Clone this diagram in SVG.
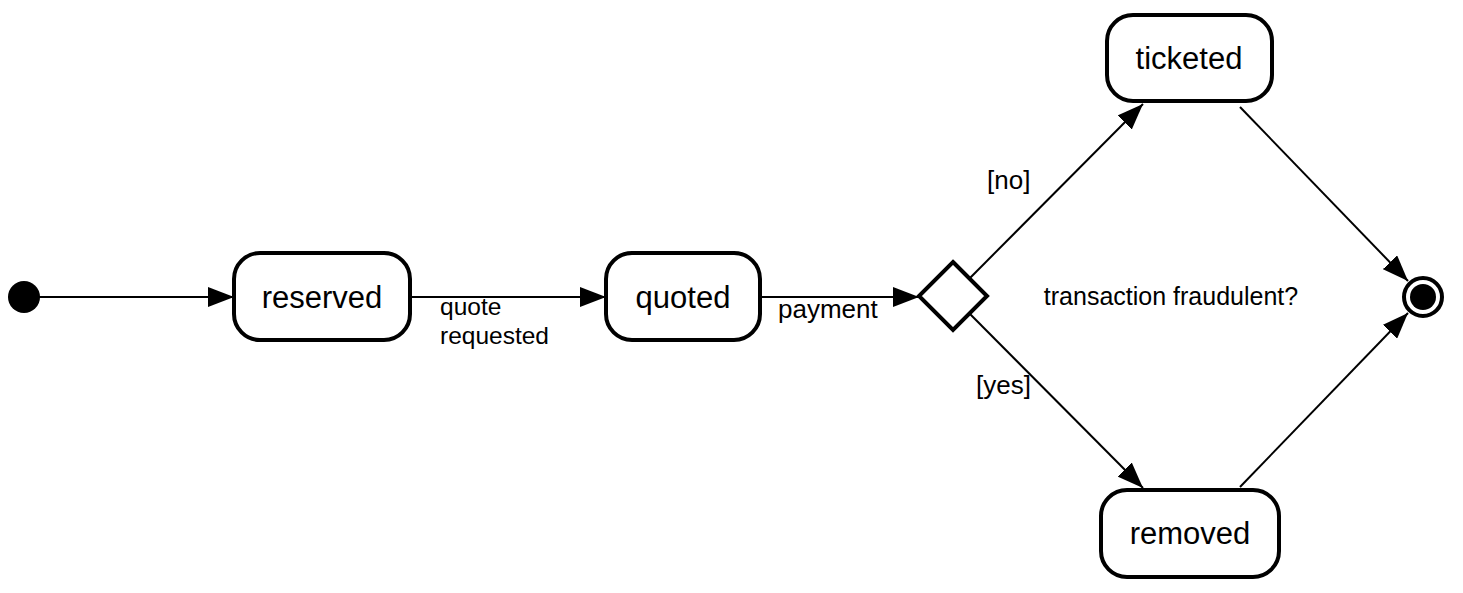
<svg xmlns="http://www.w3.org/2000/svg" width="1463" height="593" viewBox="0 0 1463 593">
<style>
.state{fill:#fff;stroke:#000;stroke-width:4}
.lbl{font-family:"Liberation Sans",Arial,sans-serif;font-size:31px;fill:#000;text-anchor:middle;dominant-baseline:central}
.elbl{font-family:"Liberation Sans",Arial,sans-serif;font-size:26px;fill:#000}
.edge{stroke:#000;stroke-width:2;fill:none}
</style>
<defs>
<marker id="arr" viewBox="0 0 26 20" refX="26" refY="10" markerWidth="26" markerHeight="20" markerUnits="userSpaceOnUse" orient="auto">
<path d="M0,0 L26,10 L0,20 Z" fill="#000"/>
</marker>
</defs>
<rect width="1463" height="593" fill="#fff"/>
<g id="connectors">
<line class="edge" x1="38" y1="297" x2="234" y2="297" marker-end="url(#arr)"/>
<line class="edge" x1="410" y1="297" x2="606" y2="297" marker-end="url(#arr)"/>
<line class="edge" x1="760" y1="297" x2="919" y2="297" marker-end="url(#arr)"/>
<line class="edge" x1="970" y1="278" x2="1143" y2="104" marker-end="url(#arr)"/>
<line class="edge" x1="970" y1="314" x2="1143" y2="488" marker-end="url(#arr)"/>
<line class="edge" x1="1240" y1="107" x2="1408" y2="281" marker-end="url(#arr)"/>
<line class="edge" x1="1240" y1="487" x2="1408" y2="313" marker-end="url(#arr)"/>
<text class="elbl" x="440" y="315" style="font-size:24.5px">quote</text>
<text class="elbl" x="440" y="344" style="font-size:24.5px">requested</text>
<text class="elbl" x="778" y="318">payment</text>
<text class="elbl" x="987" y="189">[no]</text>
<text class="elbl" x="976" y="394">[yes]</text>
</g>
<g id="initial"><circle cx="24" cy="297" r="16" fill="#000"/></g>
<g id="reserved"><rect class="state" x="234" y="253" width="176" height="87" rx="26"/><text class="lbl" x="322" y="297">reserved</text></g>
<g id="quoted"><rect class="state" x="606" y="253" width="154" height="87" rx="26"/><text class="lbl" x="683" y="297">quoted</text></g>
<g id="decision"><polygon class="state" points="953,262 987,296 953,330 919,296"/></g>
<g id="ticketed"><rect class="state" x="1107" y="15" width="165" height="86" rx="26"/><text class="lbl" x="1189" y="58">ticketed</text></g>
<g id="removed"><rect class="state" x="1101" y="490" width="178" height="87" rx="26"/><text class="lbl" x="1190" y="533">removed</text></g>
<g id="final"><circle cx="1423" cy="297" r="19" fill="#fff" stroke="#000" stroke-width="4"/><circle cx="1423" cy="297" r="13" fill="#000"/></g>
<g id="note"><text x="1171" y="305" text-anchor="middle" style="font-family:'Liberation Sans',Arial,sans-serif;font-size:25px;fill:#000">transaction fraudulent?</text></g>
</svg>
